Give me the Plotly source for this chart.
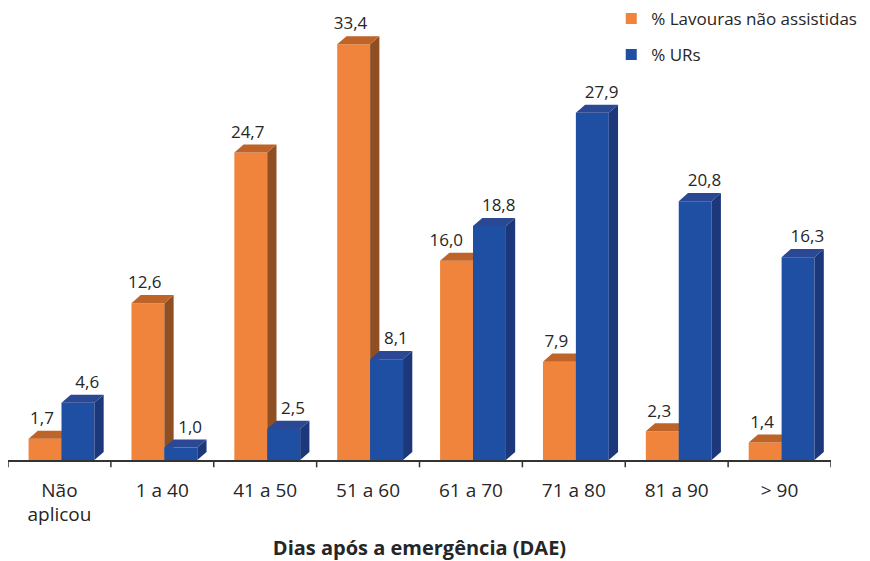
import plotly.graph_objects as go

categories = ["Não<br>aplicou", "1 a 40", "41 a 50", "51 a 60", "61 a 70", "71 a 80", "81 a 90", "> 90"]
lavouras = [1.7, 12.6, 24.7, 33.4, 16.0, 7.9, 2.3, 1.4]
urs = [4.6, 1.0, 2.5, 8.1, 18.8, 27.9, 20.8, 16.3]

FONT = "Open Sans, Lato, sans-serif"
TXT = "#262626"

# name, values, face offset, label shift, (front, side, top) colours
series = [
    ("% Lavouras não assistidas", lavouras, -0.30, -0.03, ("#F0843C", "#8F4F22", "#BF6428")),
    ("% URs", urs, 0.02, 0.09, ("#1F4FA3", "#1C377A", "#2A4894")),
]

BAR_W = 0.32      # front face width (category units)
DX = 0.09         # depth offset along x (category units)
DY = 0.65         # depth offset along y (value units)
LABEL_GAP = 0.2   # extra lift of the value labels (value units)

fig = go.Figure()

def polys(faces):
    xs, ys = [], []
    for px, py in faces:
        xs += px + [px[0], None]
        ys += py + [py[0], None]
    return xs, ys

def fmt(v):
    return f"{v:.1f}".replace(".", ",")

for k, (name, vals, off, lshift, (c_front, c_side, c_top)) in enumerate(series):
    fronts, sides, tops = [], [], []
    for i, v in enumerate(vals):
        x0 = i + off
        x1 = x0 + BAR_W
        fronts.append(([x0, x1, x1, x0], [0, 0, v, v]))
        sides.append(([x1, x1 + DX, x1 + DX, x1], [0, DY, v + DY, v]))
        tops.append(([x0, x1, x1 + DX, x0 + DX], [v, v, v + DY, v + DY]))
    for faces, col in ((fronts, c_front), (sides, c_side), (tops, c_top)):
        xs, ys = polys(faces)
        fig.add_trace(go.Scatter(x=xs, y=ys, mode="lines", fill="toself",
                                 fillcolor=col, line=dict(width=0, color=col),
                                 hoverinfo="skip", showlegend=False))
    # value labels above each bar; a wide left label is nudged away from a taller neighbour
    lx = []
    for i, v in enumerate(vals):
        s = lshift
        if k == 0 and urs[i] > v and len(fmt(v)) > 3:
            s -= 0.07
        lx.append(i + off + BAR_W / 2 + s)
    fig.add_trace(go.Scatter(
        x=lx,
        y=[v + DY + LABEL_GAP for v in vals],
        mode="text",
        text=[fmt(v) for v in vals],
        textposition="top center",
        textfont=dict(family=FONT, size=17, color=TXT),
        hoverinfo="skip", showlegend=False))
    # legend entry
    fig.add_trace(go.Scatter(x=[None], y=[None], mode="markers", name=name,
                             marker=dict(symbol="square", size=11, color=c_front),
                             legendgroup=name))

fig.update_layout(
    width=870, height=561,
    margin=dict(l=8, r=39, t=0, b=101, autoexpand=False),
    plot_bgcolor="white", paper_bgcolor="white",
    font=dict(family=FONT, size=17, color=TXT),
    legend=dict(x=0.733, y=0.998, xanchor="left", yanchor="top",
                font=dict(size=17, color=TXT),
                tracegroupgap=11, itemwidth=30, bgcolor="rgba(0,0,0,0)"),
    xaxis=dict(
        range=[-0.5, 7.5], tickmode="array",
        tickvals=list(range(len(categories))), ticktext=categories,
        showgrid=False, zeroline=False,
        showline=True, linecolor="#333333", linewidth=1.5,
        ticks="", ticklabelstandoff=12,
        tickfont=dict(family=FONT, size=19, color=TXT),
        title=dict(text="<b>Dias após a emergência (DAE)</b>",
                   font=dict(family=FONT, size=20, color=TXT), standoff=22),
        automargin=False,
        fixedrange=True,
    ),
    yaxis=dict(range=[0, 36.96], visible=False, fixedrange=True),
)

# category boundary ticks on the baseline
for b in [i - 0.5 for i in range(len(categories) + 1)]:
    fig.add_shape(type="line", xref="x", yref="paper", x0=b, x1=b, y0=0.0, y1=-0.016,
                  line=dict(color="#333333", width=1.5))

fig.write_html("out.html")
